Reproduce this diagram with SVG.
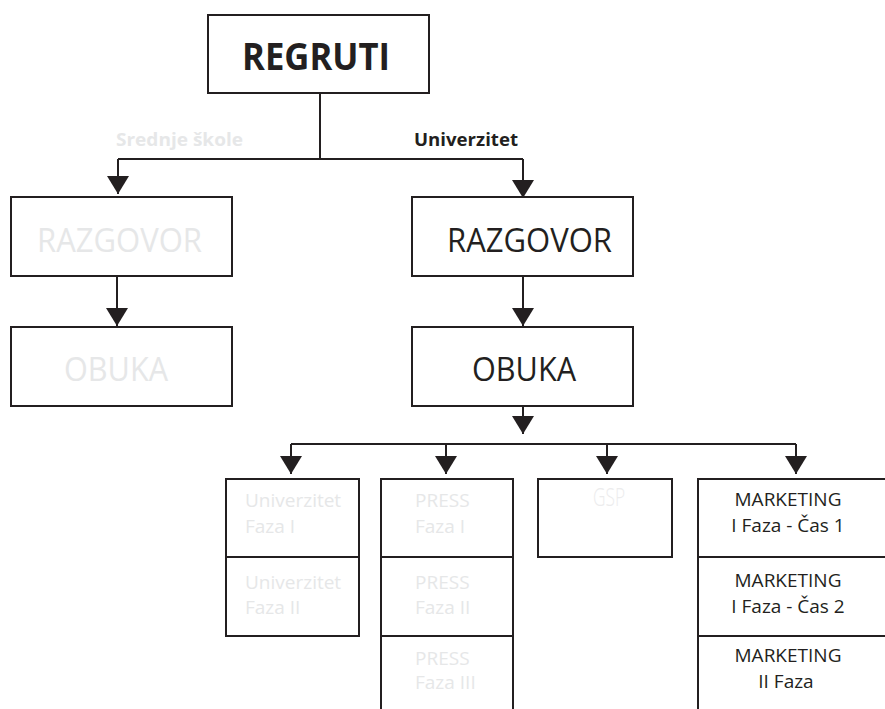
<svg xmlns="http://www.w3.org/2000/svg" width="885" height="709" viewBox="0 0 885 709">
<style>
.box{fill:#fff;stroke:#231f20;stroke-width:2}
.ln{fill:none;stroke:#231f20;stroke-width:2}
.t{font-family:"Open Sans","Noto Sans","Liberation Sans",sans-serif;fill:#231f20}
.g{fill:#e6e7e8}
.big{font-size:32px}
.sm{font-size:19px}
</style>
<defs>
<marker id="ah" markerUnits="userSpaceOnUse" viewBox="0 0 18 22" markerWidth="18" markerHeight="22" refX="18" refY="11" orient="auto">
<path d="M0,0 L18,11 L0,22 Z" fill="#231f20"/>
</marker>
</defs>
<rect width="885" height="709" fill="#fff"/>
<g id="connectors">
<path class="ln" d="M320 93 V159 M118 159 H523"/>
<path class="ln" d="M118 159 V194" marker-end="url(#ah)"/>
<path class="ln" d="M523 159 V198" marker-end="url(#ah)"/>
<path class="ln" d="M117 276 V326" marker-end="url(#ah)"/>
<path class="ln" d="M523 276 V326" marker-end="url(#ah)"/>
<path class="ln" d="M523 406 V434" marker-end="url(#ah)"/>
<path class="ln" d="M291 444 H796"/>
<path class="ln" d="M291 444 V474" marker-end="url(#ah)"/>
<path class="ln" d="M446 444 V474" marker-end="url(#ah)"/>
<path class="ln" d="M607 444 V474" marker-end="url(#ah)"/>
<path class="ln" d="M796 444 V474" marker-end="url(#ah)"/>
<text class="t g" x="116" y="146" font-size="17" font-weight="bold" textLength="127" lengthAdjust="spacingAndGlyphs">Srednje škole</text>
<text class="t" x="414" y="146" font-size="17" font-weight="bold" textLength="104" lengthAdjust="spacingAndGlyphs">Univerzitet</text>
</g>
<g id="regruti">
<rect class="box" x="208" y="15" width="221" height="78"/>
<text class="t" x="242" y="70" font-size="37" font-weight="bold" textLength="148" lengthAdjust="spacingAndGlyphs">REGRUTI</text>
</g>
<g id="razgovor-left">
<rect class="box" x="11" y="197" width="221" height="79"/>
<text class="t g big" x="37" y="252" textLength="165" lengthAdjust="spacingAndGlyphs">RAZGOVOR</text>
</g>
<g id="obuka-left">
<rect class="box" x="11" y="327" width="221" height="79"/>
<text class="t g big" x="64" y="381" textLength="104" lengthAdjust="spacingAndGlyphs">OBUKA</text>
</g>
<g id="razgovor-right">
<rect class="box" x="412" y="197" width="221" height="79"/>
<text class="t big" x="447" y="252" textLength="165" lengthAdjust="spacingAndGlyphs">RAZGOVOR</text>
</g>
<g id="obuka-right">
<rect class="box" x="412" y="327" width="221" height="79"/>
<text class="t big" x="472" y="381" textLength="104" lengthAdjust="spacingAndGlyphs">OBUKA</text>
</g>
<g id="univerzitet-1">
<rect class="box" x="226" y="479" width="133" height="78"/>
<text class="t g sm" x="245" y="507">Univerzitet</text>
<text class="t g sm" x="245" y="533">Faza I</text>
</g>
<g id="univerzitet-2">
<rect class="box" x="226" y="557" width="133" height="79"/>
<text class="t g sm" x="245" y="589">Univerzitet</text>
<text class="t g sm" x="245" y="614">Faza II</text>
</g>
<g id="press-1">
<rect class="box" x="381" y="479" width="132" height="78"/>
<text class="t g sm" x="415" y="507">PRESS</text>
<text class="t g sm" x="415" y="533">Faza I</text>
</g>
<g id="press-2">
<rect class="box" x="381" y="557" width="132" height="79"/>
<text class="t g sm" x="415" y="589">PRESS</text>
<text class="t g sm" x="415" y="614">Faza II</text>
</g>
<g id="press-3">
<rect class="box" x="381" y="636" width="132" height="100"/>
<text class="t g sm" x="415" y="665">PRESS</text>
<text class="t g sm" x="415" y="689">Faza III</text>
</g>
<g id="gsp">
<rect class="box" x="538" y="479" width="134" height="78"/>
<text class="t" x="593" y="506" font-size="26" font-weight="300" fill="#eeeeee" style="fill:#ececed" textLength="32" lengthAdjust="spacingAndGlyphs">GSP</text>
</g>
<g id="marketing-1">
<rect class="box" x="698" y="479" width="220" height="78"/>
<text class="t sm" x="788" y="506" text-anchor="middle">MARKETING</text>
<text class="t sm" x="788" y="532" text-anchor="middle">I Faza - Čas 1</text>
</g>
<g id="marketing-2">
<rect class="box" x="698" y="557" width="220" height="79"/>
<text class="t sm" x="788" y="587" text-anchor="middle">MARKETING</text>
<text class="t sm" x="788" y="613" text-anchor="middle">I Faza - Čas 2</text>
</g>
<g id="marketing-3">
<rect class="box" x="698" y="636" width="220" height="100"/>
<text class="t sm" x="788" y="662" text-anchor="middle">MARKETING</text>
<text class="t sm" x="786" y="688" text-anchor="middle">II Faza</text>
</g>
</svg>
